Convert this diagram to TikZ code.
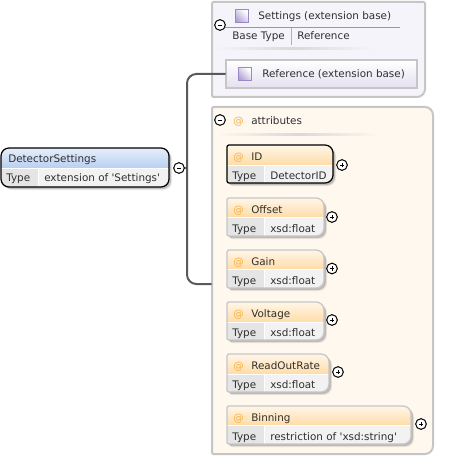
\documentclass[tikz,border=0pt]{standalone}
\usepackage{fontspec}
\setmainfont{DejaVu Sans}
\usetikzlibrary{fit}
\definecolor{pan}{HTML}{C6C6C6}
\definecolor{lav}{HTML}{F6F4FB}
\definecolor{refB}{HTML}{E4E0F0}
\definecolor{cream}{HTML}{FEF8EF}
\definecolor{orangeA}{HTML}{FFF6E8}
\definecolor{orangeB}{HTML}{FFDCA8}
\definecolor{blueA}{HTML}{E6EEFB}
\definecolor{blueB}{HTML}{B9CFF0}
\definecolor{cellA}{HTML}{E5E5E5}
\definecolor{cellB}{HTML}{F2F2F2}
\definecolor{at}{HTML}{F5B040}
\definecolor{iconB}{HTML}{9C88C8}
\definecolor{ink}{HTML}{303030}
\tikzset{
  lbl/.style={inner sep=0pt,anchor=base west,text=ink,font=\fontsize{7.8}{9}\selectfont},
  atsign/.style={inner sep=0pt,anchor=base west,text=at,font=\fontsize{7.8}{9}\selectfont},
  sign/.style={circle,draw=black,line width=.75pt,fill=white,minimum size=8pt,inner sep=0pt},
  conn/.style={draw=black!65,line width=1.5pt,rounded corners=7pt},
  frame/.style={inner sep=0pt},
  icon/.style={draw=iconB,line width=.75pt,left color=white,right color=iconB!80,shading angle=-45},
}
\newcommand{\minusat}[3]{\node[sign] (#1) at (#2,#3) {};
  \draw[line width=.7pt] ([xshift=-1.6pt]#1.center) -- ([xshift=1.6pt]#1.center);}
\newcommand{\plusat}[3]{\node[sign] (#1) at (#2,#3) {};
  \draw[line width=.7pt] ([xshift=-1.6pt]#1.center) -- ([xshift=1.6pt]#1.center);
  \draw[line width=.7pt] ([yshift=-1.6pt]#1.center) -- ([yshift=1.6pt]#1.center);}
% #1 l, #2 t, #3 r, #4 b, #5 split, #6 cell right, #7 left radius, #8 border colour, #9 header colours
\newcommand{\tworow}[9]{%
  \def\bshape{[rounded corners=#7pt] (#1,#4) -- (#1,#2) [rounded corners=6pt] -- (#3,#2) -- (#3,#4) [rounded corners=#7pt] -- cycle}
  \fill[black,opacity=.08] [shift={(3,3)}] \bshape;
  \fill[black,opacity=.18] [shift={(2,2)}] \bshape;
  \begin{scope}
    \clip \bshape;
    \shade[top color=#9A,bottom color=#9B] (#1,#2) rectangle (#3,#5);
    \fill[cellA] (#1,#5) rectangle (#6,#4);
    \fill[cellB] (#6,#5) rectangle (#3,#4);
    \fill[white] (#1,#5) rectangle (#3,#5+1);
    \fill[white] (#6,#5) rectangle (#6+1,#4);
  \end{scope}
  \draw[#8,line width=.95pt] \bshape;
}
\newcommand{\attr}[9]{% name,t,r,split,title,value,plus x,plus y,border
  \tworow{227}{#2}{#3}{#2+38}{#4}{264}{1.5}{#9}{orange}
  \node[atsign] (#1at) at (233,#2+15) {@};
  \node[lbl] (#1t) at (251,#2+15) {#5};
  \node[lbl] (#1k) at (232,#2+34) {Type};
  \node[lbl] (#1v) at (270,#2+34) {#6};
  \plusat{#1p}{#7}{#8}
}
\begin{document}
\begin{tikzpicture}[x=.75pt,y=-.75pt]
\useasboundingbox (0,0) rectangle (451,456);
\fill[white] (0,0) rectangle (451,456);
% panels
\draw[pan,line width=1.5pt,fill=lav] [rounded corners=1pt] (212,97) -- (212,2) -- (425,2) [rounded corners=6pt] -- (425,97) [rounded corners=1pt] -- cycle;
\draw[pan,line width=1.5pt,fill=cream] [rounded corners=1pt] (212,454) -- (212,107) [rounded corners=6pt] -- (433,107) -- (433,454) [rounded corners=1pt] -- cycle;
\coordinate (setA) at (212,2); \coordinate (setB) at (425,97);
\coordinate (atrA) at (212,107); \coordinate (atrB) at (433,454);
\node[frame,fit=(setA)(setB)] (settings) {};
\node[frame,fit=(atrA)(atrB)] (attrs) {};
% settings panel
\draw[black!40,line width=.5pt] (225,27) -- (400,27);
\draw[black!30,line width=.5pt] (291,28) -- (291,45);
\shade[left color=lav,right color=lav,middle color=black!15] (214,48) rectangle (374,49.5);
\draw[icon] (235,10) rectangle (248,23);
\node[lbl] (settingsT) at (258,20) {Settings (extension base)};
\node[lbl] (baseK) at (232,40) {Base Type};
\node[lbl] (baseV) at (297,40) {Reference};
\minusat{setM}{220}{25}
% reference box
\draw[pan,line width=1.5pt,top color=white,bottom color=refB] (226,60) rectangle (417,88);
\coordinate (refA) at (226,60); \coordinate (refZ) at (417,88);
\node[frame,fit=(refA)(refZ)] (ref) {};
\draw[icon] (238,68) rectangle (251,81);
\node[lbl] (refT) at (262,78) {Reference (extension base)};
% attributes panel
\minusat{atrM}{220}{120}
\node[atsign] (atrAt) at (233,124) {@};
\node[lbl] (atrT) at (251,124) {attributes};
\shade[left color=cream,right color=cream,middle color=black!15] (216,134) rectangle (380,135.5);
% main element
\tworow{1}{148}{169}{187}{168}{38}{6}{black}{blue}
\node[lbl] (mainT) at (8,162.5) {DetectorSettings};
\node[lbl] (mainK) at (6,181.5) {Type};
\node[lbl] (mainV) at (44,181.5) {extension of \textquotesingle Settings\textquotesingle};
\minusat{mainM}{179}{168}
% connectors
\coordinate (busTop) at (187,74);
\coordinate (busBot) at (187,284);
\coordinate (busMid) at (187,168);
\draw[conn] (ref.west) -- (busTop) -- (busBot) -- (attrs.west |- busBot);
\draw[black!65,line width=1.2pt] (mainM.east) -- (busMid);
% attributes
\attr{id}{145}{333}{165}{ID}{DetectorID}{342}{165}{black}
\attr{off}{198}{324}{217}{Offset}{xsd:float}{332}{217}{pan}
\attr{gain}{250}{324}{269}{Gain}{xsd:float}{332}{268.5}{pan}
\attr{volt}{302}{324}{322}{Voltage}{xsd:float}{332}{320}{pan}
\attr{rate}{354}{329}{374}{ReadOutRate}{xsd:float}{338}{372}{pan}
\attr{bin}{406}{411}{425}{Binning}{restriction of \textquotesingle xsd:string\textquotesingle}{421}{424}{pan}
\end{tikzpicture}
\end{document}
